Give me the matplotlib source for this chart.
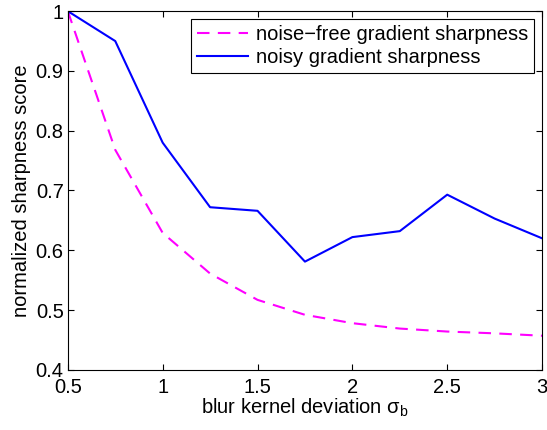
import numpy as np
import matplotlib
matplotlib.use("Agg")
from matplotlib import pyplot as plt
from matplotlib.ticker import FuncFormatter

plt.rcParams['font.family'] = ['Liberation Sans', 'DejaVu Sans']
plt.rcParams['mathtext.fontset'] = 'custom'
plt.rcParams['mathtext.rm'] = 'Liberation Sans'
plt.rcParams['mathtext.it'] = 'Liberation Sans'

# blur kernel deviation values
sigma = [0.5, 0.75, 1.0, 1.25, 1.5, 1.75, 2.0, 2.25, 2.5, 2.75, 3.0]
# sharpness scores
noise_free = [1.0, 0.768, 0.629, 0.561, 0.517, 0.492, 0.478, 0.469, 0.464, 0.461, 0.457]
noisy = [1.0, 0.950, 0.780, 0.672, 0.666, 0.581, 0.622, 0.632, 0.693, 0.653, 0.620]

x_ticks = [0.5, 1, 1.5, 2, 2.5, 3]
y_ticks = [0.4, 0.5, 0.6, 0.7, 0.8, 0.9, 1.0]

fs = 14.5

fig = plt.figure(figsize=(5.47, 4.30), dpi=100)
ax = fig.add_axes([0.124, 0.140, 0.867, 0.834])

ax.plot(sigma, noise_free, color='#ff00ff', linestyle='--', dashes=(6, 4), lw=1.5,
        label='noise\u2212free gradient sharpness')
ax.plot(sigma, noisy, color='#0000ff', lw=1.5, label='noisy gradient sharpness')

ax.set_xlim(0.5, 3)
ax.set_ylim(0.4, 1)
ax.set_xticks(x_ticks)
ax.set_yticks(y_ticks)
ax.xaxis.set_major_formatter(FuncFormatter(lambda v, p: '%g' % v))
ax.yaxis.set_major_formatter(FuncFormatter(lambda v, p: '%g' % v))
ax.tick_params(direction='in', top=True, right=True, labelsize=fs, length=4, width=0.8, pad=3)
ax.tick_params(axis='x', pad=6)
for s in ax.spines.values():
    s.set_linewidth(0.8)

ax.set_xlabel(r'blur kernel deviation $\sigma_\mathrm{b}$', fontsize=fs, labelpad=0)
ax.set_ylabel('normalized sharpness score', fontsize=fs, labelpad=3)

leg = ax.legend(loc='upper right', fontsize=fs, fancybox=False, framealpha=1,
                edgecolor='black', handlelength=2.5, borderaxespad=0.4,
                labelspacing=0.2, borderpad=0.3, handletextpad=0.4)
leg.get_frame().set_linewidth(0.8)

fig.savefig('out.png', dpi=100)
